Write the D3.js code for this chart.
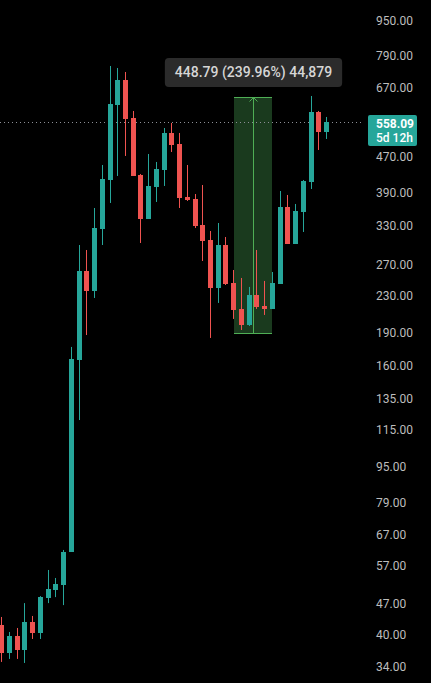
<!DOCTYPE html>
<html><head><meta charset="utf-8">
<script src="https://cdn.jsdelivr.net/npm/d3@7"></script>
<style>html,body{margin:0;padding:0;background:#000;overflow:hidden}</style>
</head><body>
<svg id="c" width="431" height="683"></svg>
<script>
// ---- data (weekly candles, log price scale) ----
const open  = [41.79,36.18,39.49,36.74,42.44,40.11,48.00,50.06,51.36,60.89,163.8,259.2,233.8,321.8,414.3,609.8,693.7,570.3,425.1,338.8,399.6,436.2,527.9,498.8,379.5,375.6,328.5,304.1,237.4,296.3,243.6,213.1,196.2,229.0,216.4,213.1,242.4,360.5,297.9,351.3,410.0,588.2,530.6];
const high  = [43.55,40.31,41.15,46.78,43.78,48.50,55.49,53.25,61.52,175.2,296.3,288.8,358.6,447.6,745.6,738.0,722.9,591.3,427.3,473.7,454.6,541.6,555.8,527.9,447.6,385.4,403.7,318.5,331.9,308.8,260.5,250.0,238.7,288.8,246.2,257.8,391.4,383.5,366.1,414.3,638.8,591.3,573.3];
const low   = [34.54,35.08,35.08,34.36,38.88,38.88,46.78,48.25,46.30,60.89,120.2,186.3,225.5,296.3,368.0,422.9,468.9,422.9,299.4,338.8,369.9,401.7,478.6,358.6,371.8,323.5,272.9,183.5,219.8,241.1,202.4,191.2,195.2,213.1,206.6,213.1,242.4,297.9,297.9,316.9,395.5,483.6,511.8];
const close = [36.18,39.49,36.74,42.44,40.11,48.25,50.32,51.63,60.89,164.7,259.2,233.8,323.5,416.4,613.0,693.7,567.4,422.9,338.8,401.7,438.5,527.9,496.2,377.6,373.7,326.8,302.5,237.4,296.3,242.4,212.0,196.2,229.0,215.3,213.1,243.6,360.5,297.9,353.1,412.2,588.2,530.6,558.09];
const yTicks = [950,790,670,470,390,330,270,230,190,160,135,115,95,79,67,57,47,40,34];
const lastPrice = 558.09;
const countdown = "5d 12h";
const rangeBars = [30,35];          // price-range tool: from bar to bar
const rangePrices = [187.03,635.82]; // price-range tool: low, high
const tickSize = 0.01;

// ---- drawing ----
const W=431, H=683;
const up="#26a69a", dn="#ef5350";
const svg=d3.select("#c");
svg.append("rect").attr("width",W).attr("height",H).attr("fill","#000");

const idx=d3.range(open.length);
const x=d3.scaleLinear().domain([0,open.length-1]).range([1.8,326.5]);
const y=d3.scaleLog().domain([950,34]).range([19,665]);
const px=i=>Math.floor(x(i))+0.5;

// range box fill
const bx0=Math.round(x(rangeBars[0])), bx1=Math.round(x(rangeBars[1]));
const by0=Math.round(y(rangePrices[1])), by1=Math.round(y(rangePrices[0]));
svg.append("rect").attr("x",bx0).attr("y",by0).attr("width",bx1-bx0).attr("height",by1-by0)
  .attr("fill","#1a3a1e");

// last price dotted line
const py=y(lastPrice);
svg.append("line").attr("x1",0).attr("x2",364).attr("y1",Math.round(py)+0.5).attr("y2",Math.round(py)+0.5)
  .attr("stroke","#8c8f96").attr("stroke-width",1).attr("stroke-dasharray","1,3");

// candles
const cg=svg.append("g");
const col=i=>close[i]>=open[i]?up:dn;
cg.selectAll("line.w").data(idx).join("line").attr("class","w")
  .attr("x1",px).attr("x2",px)
  .attr("y1",i=>y(high[i])).attr("y2",i=>y(low[i]))
  .attr("stroke",col).attr("stroke-width",1);
cg.selectAll("rect.b").data(idx).join("rect").attr("class","b")
  .attr("x",i=>px(i)-2.5)
  .attr("y",i=>Math.round(y(Math.max(open[i],close[i]))))
  .attr("width",5)
  .attr("height",i=>Math.max(1,Math.round(y(Math.min(open[i],close[i])))-Math.round(y(Math.max(open[i],close[i])))))
  .attr("fill",col);

// range box edges + arrow
const gc="#4fae55";
svg.append("line").attr("x1",bx0).attr("x2",bx1).attr("y1",by0+0.5).attr("y2",by0+0.5).attr("stroke",gc);
svg.append("line").attr("x1",bx0).attr("x2",bx1).attr("y1",by1-0.5).attr("y2",by1-0.5).attr("stroke",gc);
const ax=Math.floor((bx0+bx1)/2)+0.5;
svg.append("line").attr("x1",ax).attr("x2",ax).attr("y1",by0).attr("y2",by1).attr("stroke",gc);
svg.append("path").attr("d",`M${ax-4},${by0+4.5}L${ax},${by0+0.5}L${ax+4},${by0+4.5}`)
  .attr("fill","none").attr("stroke",gc);

// tooltip
const change=rangePrices[1]-rangePrices[0];
const pct=change/rangePrices[0]*100;
const nTicks=Math.round(change/tickSize);
const label=`${change.toFixed(2)} (${pct.toFixed(2)}%) ${d3.format(",")(nTicks)}`;
const tg=svg.append("g");
const tr=tg.append("rect").attr("fill","#2b2b2b").attr("rx",4);
const tt=tg.append("text").attr("x",ax).attr("y",by0-20.5).attr("text-anchor","middle")
  .attr("font-family","Roboto, sans-serif").attr("font-size",14).attr("font-weight",500)
  .attr("fill","#d6d6d6").text(label);
const tw=tt.node().getComputedTextLength();
tr.attr("x",ax-tw/2-10).attr("y",by0-39).attr("width",tw+20).attr("height",29);

// y axis labels
svg.append("g").selectAll("text").data(yTicks).join("text")
  .attr("x",376).attr("y",d=>y(d)+5.5)
  .attr("font-family","Roboto, sans-serif").attr("font-size",12)
  .attr("fill","#bdbdbd").text(d=>d.toFixed(2));

// last price label
const pg=svg.append("g");
pg.append("rect").attr("x",368).attr("y",Math.round(py)-7).attr("width",49).attr("height",31).attr("rx",2).attr("fill",up);
pg.append("text").attr("x",376).attr("y",py+6).attr("font-family","Roboto, sans-serif").attr("font-size",12)
  .attr("font-weight",700).attr("fill","#ffffff").text(lastPrice.toFixed(2));
pg.append("text").attr("x",376).attr("y",py+20).attr("font-family","Roboto, sans-serif").attr("font-size",12)
  .attr("font-weight",500).attr("fill","#ffffff").text(countdown);
</script>
</body></html>
